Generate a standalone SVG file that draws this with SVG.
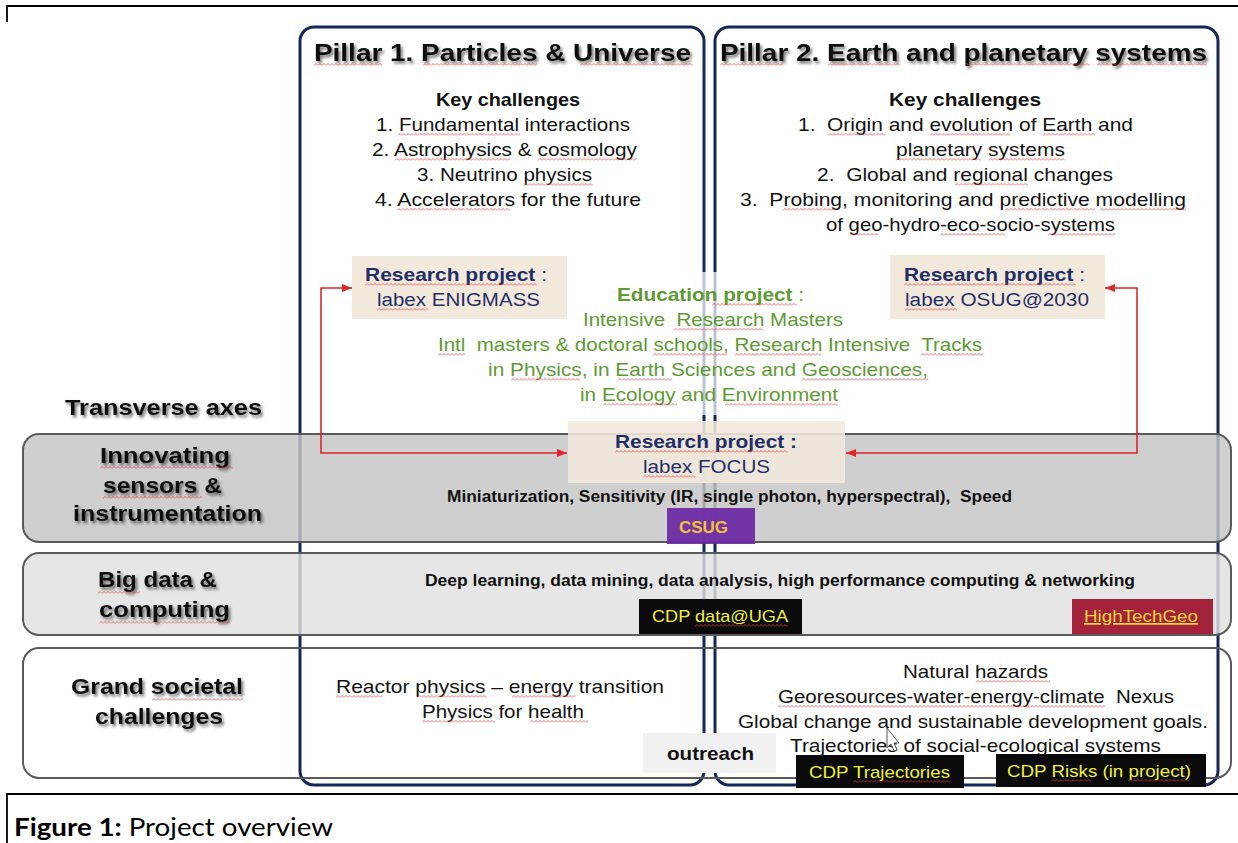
<svg xmlns="http://www.w3.org/2000/svg" width="1238" height="843" viewBox="0 0 1238 843">
  <style>
    .t { font-family: "Liberation Sans", Arial, sans-serif; fill: #111; }
    .b { font-weight: bold; }
    .k { font-size: 19px; }
    .lab { font-size: 22px; font-weight: bold; }
    .navy { fill: #1f2f66; }
    .green { fill: #5e9a34; }
    .ylw { fill: #f2f23a; font-size: 17px; }
    .pillar { fill: none; stroke: #15275a; stroke-width: 3; }
    .band { stroke: #5a5a5a; stroke-width: 2; }
    .beige { fill: #f2e9dc; }
    .red { fill: none; stroke: #e0262b; stroke-width: 1.6; }
    .frame { fill: none; stroke: #000; stroke-width: 1.8; }
    .sq { fill: url(#wave); }
  </style>
  <defs>
    <filter id="shadow" x="-10%" y="-30%" width="120%" height="160%">
      <feDropShadow dx="2" dy="2.5" stdDeviation="1.5" flood-color="#000" flood-opacity="0.55"/>
    </filter>
    <marker id="ah" viewBox="0 0 10 8" refX="10" refY="4" markerWidth="10" markerHeight="8" orient="auto-start-reverse" markerUnits="userSpaceOnUse">
      <path d="M0,0 L10,4 L0,8 z" fill="#e0262b"/>
    </marker>
    <!-- spell-check squiggle -->
    <pattern id="wave" width="4" height="3" patternUnits="userSpaceOnUse">
      <path d="M0,2.5 L1,1.5 L2,0.5 L3,1.5 L4,2.5" fill="none" stroke="#e23a3a" stroke-width="0.8"/>
    </pattern>
  </defs>

  <rect width="1238" height="843" fill="#fff"/>

  <!-- page frame -->
  <path class="frame" d="M7,22 V6 H1238"/>
  <path class="frame" d="M7,843 V794 H1238"/>

  <!-- pillars -->
  <g id="pillar1">
    <rect class="pillar" x="300" y="27" width="404" height="758" rx="14"/>
    <text class="t b" x="314" y="61" font-size="24" filter="url(#shadow)" textLength="377" lengthAdjust="spacingAndGlyphs">Pillar 1. Particles &amp; Universe</text>
    <text class="t b" x="436" y="106" font-size="19" textLength="144" lengthAdjust="spacingAndGlyphs">Key challenges</text>
    <text class="t k" x="376" y="131" textLength="254" lengthAdjust="spacingAndGlyphs">1. Fundamental interactions</text>
    <text class="t k" x="372" y="156" textLength="265" lengthAdjust="spacingAndGlyphs">2. Astrophysics &amp; cosmology</text>
    <text class="t k" x="417" y="181" textLength="175" lengthAdjust="spacingAndGlyphs">3. Neutrino physics</text>
    <text class="t k" x="375" y="206" textLength="266" lengthAdjust="spacingAndGlyphs">4. Accelerators for the future</text>
  </g>
  <g id="pillar2">
    <rect class="pillar" x="715" y="27" width="503" height="758" rx="14"/>
    <text class="t b" x="720" y="61" font-size="24" filter="url(#shadow)" textLength="487" lengthAdjust="spacingAndGlyphs">Pillar 2. Earth and planetary systems</text>
    <text class="t b" x="889" y="106" font-size="19" textLength="152" lengthAdjust="spacingAndGlyphs">Key challenges</text>
    <text class="t k" x="798" y="131" textLength="335" lengthAdjust="spacingAndGlyphs" xml:space="preserve">1.  Origin and evolution of Earth and</text>
    <text class="t k" x="896" y="156" textLength="169" lengthAdjust="spacingAndGlyphs">planetary systems</text>
    <text class="t k" x="817" y="181" textLength="296" lengthAdjust="spacingAndGlyphs" xml:space="preserve">2.  Global and regional changes</text>
    <text class="t k" x="740" y="206" textLength="446" lengthAdjust="spacingAndGlyphs" xml:space="preserve">3.  Probing, monitoring and predictive modelling</text>
    <text class="t k" x="826" y="231" textLength="289" lengthAdjust="spacingAndGlyphs">of geo-hydro-eco-socio-systems</text>
  </g>

  <!-- veil behind the education block -->
  <rect x="420" y="272" width="580" height="143" fill="#fff" opacity="0.72"/>

  <!-- transverse axes -->
  <g id="axes-title">
    <text class="t lab" x="65" y="415" filter="url(#shadow)" textLength="197" lengthAdjust="spacingAndGlyphs">Transverse axes</text>
  </g>
  <g id="band-sensors">
    <rect class="band" x="23" y="434" width="1208" height="108" rx="16" fill="#c4c4c4" fill-opacity="0.82"/>
    <text class="t lab" x="100" y="463" filter="url(#shadow)" textLength="130" lengthAdjust="spacingAndGlyphs">Innovating</text>
    <text class="t lab" x="103" y="493" filter="url(#shadow)" textLength="119" lengthAdjust="spacingAndGlyphs">sensors &amp;</text>
    <text class="t lab" x="73" y="521" filter="url(#shadow)" textLength="189" lengthAdjust="spacingAndGlyphs">instrumentation</text>
    <text class="t b" x="447" y="502" font-size="16" textLength="565" lengthAdjust="spacingAndGlyphs" xml:space="preserve">Miniaturization, Sensitivity (IR, single photon, hyperspectral),  Speed</text>
  </g>
  <g id="band-data">
    <rect class="band" x="23" y="553" width="1208" height="82" rx="16" fill="#e0e0e0" fill-opacity="0.82"/>
    <text class="t lab" x="98" y="587" filter="url(#shadow)" textLength="119" lengthAdjust="spacingAndGlyphs">Big data &amp;</text>
    <text class="t lab" x="99" y="617" filter="url(#shadow)" textLength="131" lengthAdjust="spacingAndGlyphs">computing</text>
    <text class="t b" x="425" y="586" font-size="16" textLength="710" lengthAdjust="spacingAndGlyphs">Deep learning, data mining, data analysis, high performance computing &amp; networking</text>
  </g>
  <g id="band-society">
    <rect class="band" x="23" y="648" width="1208" height="130" rx="16" fill="none"/>
    <text class="t lab" x="71" y="694" filter="url(#shadow)" textLength="172" lengthAdjust="spacingAndGlyphs">Grand societal</text>
    <text class="t lab" x="95" y="724" filter="url(#shadow)" textLength="128" lengthAdjust="spacingAndGlyphs">challenges</text>
    <text class="t k" x="336" y="693" textLength="328" lengthAdjust="spacingAndGlyphs">Reactor physics – energy transition</text>
    <text class="t k" x="422" y="718" textLength="162" lengthAdjust="spacingAndGlyphs">Physics for health</text>
    <text class="t k" x="903" y="678" textLength="145" lengthAdjust="spacingAndGlyphs">Natural hazards</text>
    <text class="t k" x="778" y="703" textLength="396" lengthAdjust="spacingAndGlyphs" xml:space="preserve">Georesources-water-energy-climate  Nexus</text>
    <text class="t k" x="738" y="728" textLength="470" lengthAdjust="spacingAndGlyphs">Global change and sustainable development goals.</text>
    <text class="t k" x="790" y="752" textLength="371" lengthAdjust="spacingAndGlyphs">Trajectories of social-ecological systems</text>
  </g>

  <!-- research projects -->
  <g id="enigmass">
    <rect class="beige" x="352" y="256" width="215" height="63"/>
    <text class="t k navy" x="365" y="281" textLength="182" lengthAdjust="spacingAndGlyphs"><tspan class="b">Research project</tspan> :</text>
    <text class="t k navy" x="377" y="306" textLength="163" lengthAdjust="spacingAndGlyphs">labex ENIGMASS</text>
  </g>
  <g id="osug">
    <rect class="beige" x="890" y="255" width="215" height="64"/>
    <text class="t k navy" x="904" y="281" textLength="181" lengthAdjust="spacingAndGlyphs"><tspan class="b">Research project</tspan> :</text>
    <text class="t k navy" x="905" y="306" textLength="184" lengthAdjust="spacingAndGlyphs">labex OSUG@2030</text>
  </g>
  <g id="education">
    <text class="t k green" x="617" y="301" textLength="187" lengthAdjust="spacingAndGlyphs"><tspan class="b">Education project</tspan> :</text>
    <text class="t k green" x="583" y="326" textLength="260" lengthAdjust="spacingAndGlyphs" xml:space="preserve">Intensive  Research Masters</text>
    <text class="t k green" x="438" y="351" textLength="544" lengthAdjust="spacingAndGlyphs" xml:space="preserve">Intl  masters &amp; doctoral schools, Research Intensive  Tracks</text>
    <text class="t k green" x="488" y="376" textLength="440" lengthAdjust="spacingAndGlyphs">in Physics, in Earth Sciences and Geosciences,</text>
    <text class="t k green" x="580" y="401" textLength="258" lengthAdjust="spacingAndGlyphs">in Ecology and Environment</text>
  </g>
  <g id="focus">
    <rect class="beige" x="568" y="421" width="277" height="62" fill-opacity="0.88"/>
    <text class="t k navy b" x="615" y="448" textLength="182" lengthAdjust="spacingAndGlyphs">Research project :</text>
    <text class="t k navy" x="643" y="473" textLength="127" lengthAdjust="spacingAndGlyphs">labex FOCUS</text>
  </g>

  <!-- programme tags -->
  <g id="csug">
    <rect x="667" y="508" width="88" height="36" fill="#6d2aa6" fill-opacity="0.94"/>
    <text class="t b" x="679" y="533" font-size="17" style="fill:#f0c23a" textLength="49" lengthAdjust="spacingAndGlyphs">CSUG</text>
  </g>
  <g id="cdp-data">
    <rect x="639" y="599" width="163" height="35" fill="#0a0a0a"/>
    <text class="t ylw" x="652" y="622" textLength="136" lengthAdjust="spacingAndGlyphs">CDP data@UGA</text>
  </g>
  <g id="hightechgeo">
    <rect x="1072" y="599" width="141" height="35" fill="#a3233a"/>
    <text class="t ylw" x="1084" y="622" style="fill:#f2d63a" text-decoration="underline" textLength="114" lengthAdjust="spacingAndGlyphs">HighTechGeo</text>
  </g>
  <g id="outreach">
    <rect x="643" y="733" width="133" height="40" fill="#f1f1f1"/>
    <text class="t b" x="667" y="760" font-size="19" textLength="87" lengthAdjust="spacingAndGlyphs">outreach</text>
  </g>
  <g id="cdp-trajectories">
    <rect x="796" y="755" width="168" height="33" fill="#0a0a0a"/>
    <text class="t ylw" x="809" y="778" textLength="141" lengthAdjust="spacingAndGlyphs">CDP Trajectories</text>
  </g>
  <g id="cdp-risks">
    <rect x="996" y="754" width="210" height="33" fill="#0a0a0a"/>
    <text class="t ylw" x="1007" y="777" textLength="184" lengthAdjust="spacingAndGlyphs">CDP Risks (in project)</text>
  </g>

  <!-- links between the research projects -->
  <g id="connectors">
    <path class="red" d="M352,288 H321 V453 H567" marker-start="url(#ah)" marker-end="url(#ah)"/>
    <path class="red" d="M1105,288 H1137 V453 H846" marker-start="url(#ah)" marker-end="url(#ah)"/>
  </g>

  <!-- spell-check squiggles under flagged words -->
  <g id="squiggles">
    <rect class="sq" transform="translate(314,63)" width="68" height="3"/>
    <rect class="sq" transform="translate(423,63)" width="114" height="3"/>
    <rect class="sq" transform="translate(580,63)" width="113" height="3"/>
    <rect class="sq" transform="translate(720,63)" width="63" height="3"/>
    <rect class="sq" transform="translate(828,63)" width="72" height="3"/>
    <rect class="sq" transform="translate(965,63)" width="125" height="3"/>
    <rect class="sq" transform="translate(1097,63)" width="110" height="3"/>
    <rect class="sq" transform="translate(398,133)" width="122" height="3"/>
    <rect class="sq" transform="translate(395,158)" width="115" height="3"/>
    <rect class="sq" transform="translate(538,158)" width="99" height="3"/>
    <rect class="sq" transform="translate(524,183)" width="69" height="3"/>
    <rect class="sq" transform="translate(397,208)" width="113" height="3"/>
    <rect class="sq" transform="translate(828,133)" width="57" height="3"/>
    <rect class="sq" transform="translate(930,133)" width="80" height="3"/>
    <rect class="sq" transform="translate(1043,133)" width="52" height="3"/>
    <rect class="sq" transform="translate(896,158)" width="85" height="3"/>
    <rect class="sq" transform="translate(989,158)" width="76" height="3"/>
    <rect class="sq" transform="translate(955,183)" width="73" height="3"/>
    <rect class="sq" transform="translate(783,208)" width="52" height="3"/>
    <rect class="sq" transform="translate(1005,208)" width="90" height="3"/>
    <rect class="sq" transform="translate(1100,208)" width="86" height="3"/>
    <rect class="sq" transform="translate(850,233)" width="28" height="3"/>
    <rect class="sq" transform="translate(940,233)" width="65" height="3"/>
    <rect class="sq" transform="translate(1048,233)" width="67" height="3"/>
    <rect class="sq" transform="translate(365,283)" width="172" height="3"/>
    <rect class="sq" transform="translate(377,308)" width="51" height="3"/>
    <rect class="sq" transform="translate(904,283)" width="172" height="3"/>
    <rect class="sq" transform="translate(905,308)" width="52" height="3"/>
    <rect class="sq" transform="translate(712,303)" width="85" height="3"/>
    <rect class="sq" transform="translate(674,328)" width="89" height="3"/>
    <rect class="sq" transform="translate(438,353)" width="27" height="3"/>
    <rect class="sq" transform="translate(653,353)" width="74" height="3"/>
    <rect class="sq" transform="translate(735,353)" width="86" height="3"/>
    <rect class="sq" transform="translate(921,353)" width="62" height="3"/>
    <rect class="sq" transform="translate(511,378)" width="69" height="3"/>
    <rect class="sq" transform="translate(618,378)" width="54" height="3"/>
    <rect class="sq" transform="translate(802,378)" width="126" height="3"/>
    <rect class="sq" transform="translate(603,403)" width="74" height="3"/>
    <rect class="sq" transform="translate(725,403)" width="113" height="3"/>
    <rect class="sq" transform="translate(615,450)" width="173" height="3"/>
    <rect class="sq" transform="translate(643,475)" width="52" height="3"/>
    <rect class="sq" transform="translate(100,466)" width="133" height="3"/>
    <rect class="sq" transform="translate(103,496)" width="99" height="3"/>
    <rect class="sq" transform="translate(98,591)" width="42" height="3"/>
    <rect class="sq" transform="translate(99,621)" width="131" height="3"/>
    <rect class="sq" transform="translate(152,698)" width="91" height="3"/>
    <rect class="sq" transform="translate(336,695)" width="46" height="3"/>
    <rect class="sq" transform="translate(418,695)" width="69" height="3"/>
    <rect class="sq" transform="translate(512,695)" width="63" height="3"/>
    <rect class="sq" transform="translate(422,720)" width="73" height="3"/>
    <rect class="sq" transform="translate(530,720)" width="58" height="3"/>
    <rect class="sq" transform="translate(976,680)" width="74" height="3"/>
    <rect class="sq" transform="translate(778,705)" width="327" height="3"/>
    <rect class="sq" transform="translate(695,624)" width="93" height="3"/>
    <rect class="sq" transform="translate(853,780)" width="97" height="3"/>
    <rect class="sq" transform="translate(1051,779)" width="40" height="3"/>
    <rect class="sq" transform="translate(1128,779)" width="61" height="3"/>
  </g>

  <!-- pointer -->
  <path d="M887,728 L887,748 L891,744 L894,751 L897,750 L894,743 L899,743 Z" fill="#fff" stroke="#555" stroke-width="1"/>

  <!-- caption -->
  <text x="14" y="836" font-family="Lato, 'Open Sans', sans-serif" font-size="25" fill="#000" textLength="319" lengthAdjust="spacingAndGlyphs"><tspan font-weight="bold">Figure 1:</tspan> Project overview</text>
</svg>
